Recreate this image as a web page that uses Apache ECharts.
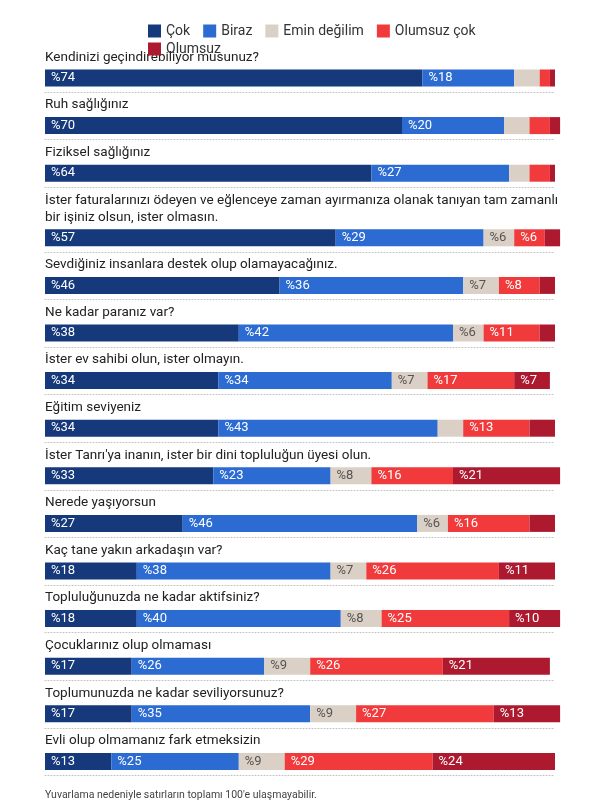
<!DOCTYPE html>
<html><head><meta charset="utf-8">
<script src="https://cdn.jsdelivr.net/npm/echarts@6/dist/echarts.min.js"></script>
<style>html,body{margin:0;padding:0;background:#fff}#c{width:612px;height:812px}</style>
</head><body><div id="c"></div>
<script>
const questions = [
  "Kendinizi geçindirebiliyor musunuz?",
  "Ruh sağlığınız",
  "Fiziksel sağlığınız",
  "İster faturalarınızı ödeyen ve eğlenceye zaman ayırmanıza olanak tanıyan tam zamanlı\nbir işiniz olsun, ister olmasın.",
  "Sevdiğiniz insanlara destek olup olamayacağınız.",
  "Ne kadar paranız var?",
  "İster ev sahibi olun, ister olmayın.",
  "Eğitim seviyeniz",
  "İster Tanrı'ya inanın, ister bir dini topluluğun üyesi olun.",
  "Nerede yaşıyorsun",
  "Kaç tane yakın arkadaşın var?",
  "Topluluğunuzda ne kadar aktifsiniz?",
  "Çocuklarınız olup olmaması",
  "Toplumunuzda ne kadar seviliyorsunuz?",
  "Evli olup olmamanız fark etmeksizin"
];
const seriesNames = ["Çok", "Biraz", "Emin değilim", "Olumsuz çok", "Olumsuz"];
const cok        = [74, 70, 64, 57, 46, 38, 34, 34, 33, 27, 18, 18, 17, 17, 13];
const biraz      = [18, 20, 27, 29, 36, 42, 34, 43, 23, 46, 38, 40, 26, 35, 25];
const eminDegil  = [5, 5, 4, 6, 7, 6, 7, 5, 8, 6, 7, 8, 9, 9, 9];
const olumsuzCok = [2, 4, 4, 6, 8, 11, 17, 13, 16, 16, 26, 25, 26, 27, 29];
const olumsuz    = [1, 2, 1, 3, 3, 3, 7, 5, 21, 5, 11, 10, 21, 13, 24];
const values = [cok, biraz, eminDegil, olumsuzCok, olumsuz];
const colors = ["#15397a", "#2b6bd2", "#dbd0c5", "#f03a3b", "#ad1a2f"];
const labelColors = ["#fff", "#fff", "#555", "#fff", "#fff"];
const footnote = "Yuvarlama nedeniyle satırların toplamı 100'e ulaşmayabilir.";

const FONT = "Roboto, 'Noto Sans', sans-serif";
const grids = [], xAxes = [], yAxes = [], series = [], graphics = [];
let c = 78;
questions.forEach((q, i) => {
  const lines = q.split("\n").length;
  if (i > 0) c += 47.6 + (lines - 1) * 17;
  grids.push({left: 45, width: 510, top: c - 14, height: 28});
  xAxes.push({gridIndex: i, type: "value", min: 0, max: 100, show: true,
    axisLine: {show: true, onZero: false, lineStyle: {type: [1, 2], color: "#c2c2c2", width: 1}},
    axisTick: {show: false}, axisLabel: {show: false}, splitLine: {show: false}});
  yAxes.push({gridIndex: i, type: "category", data: [q], show: false});
  values.forEach((arr, s) => {
    series.push({
      name: seriesNames[s], type: "bar", stack: "r" + i, xAxisIndex: i, yAxisIndex: i,
      data: [arr[i]], barWidth: 17, clip: false, itemStyle: {color: colors[s]},
      label: {show: true, position: "insideLeft", distance: 6, color: labelColors[s],
        fontFamily: FONT, fontSize: 13,
        formatter: p => p.value >= 6 ? "%" + p.value : ""},
      emphasis: {disabled: true}, silent: true
    });
  });
  graphics.push({type: "text", left: 45, top: c - 21 - 8 - (lines - 1) * 17,
    style: {text: q, font: "13.5px " + FONT, fill: "#222", lineHeight: 17}});
});
graphics.push({type: "text", left: 45, top: 790,
  style: {text: footnote, font: "10.5px " + FONT, fill: "#444"}});

const chart = echarts.init(document.getElementById("c"), null, {renderer: "canvas"});
chart.setOption({
  animation: false,
  color: colors,
  legend: [
    {data: seriesNames.slice(0, 4), left: 143, top: 19, icon: "rect", itemWidth: 13, itemHeight: 13,
      itemGap: 13, textStyle: {fontFamily: FONT, fontSize: 14, color: "#333"}},
    {data: seriesNames.slice(4), left: 143, top: 37, icon: "rect", itemWidth: 13, itemHeight: 13,
      textStyle: {fontFamily: FONT, fontSize: 14, color: "#333"}}
  ],
  grid: grids, xAxis: xAxes, yAxis: yAxes, series: series, graphic: graphics
});
</script></body></html>
